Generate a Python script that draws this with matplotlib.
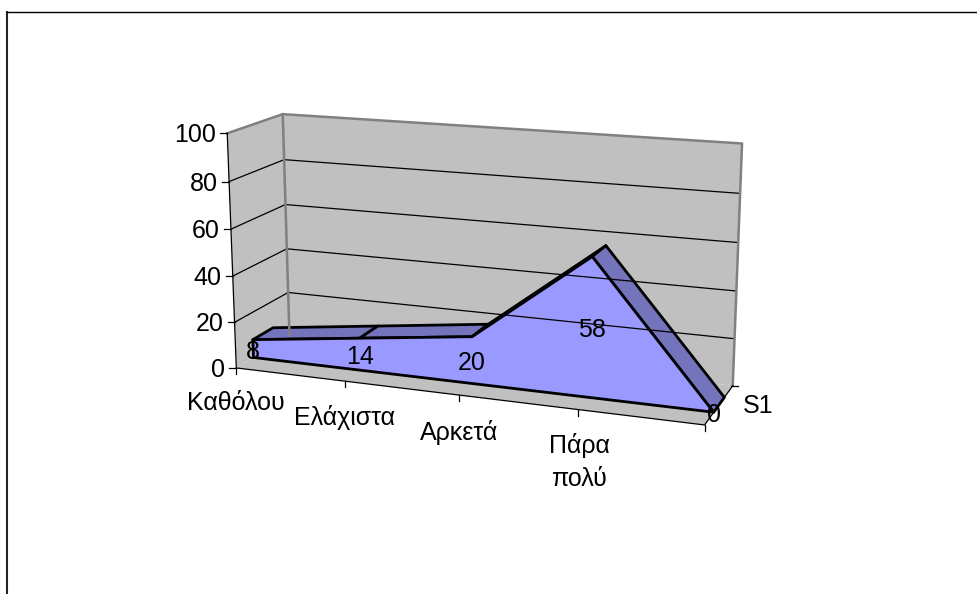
import numpy as np
from matplotlib import pyplot as plt
from matplotlib.patches import Polygon

plt.rcParams['font.family'] = ['Liberation Sans', 'DejaVu Sans']

categories = ['Καθόλου', 'Ελάχιστα', 'Αρκετά', 'Πάρα\nπολύ', '']
values = [8, 14, 20, 58, 0]
value_ticks = [0, 20, 40, 60, 80, 100]
series_name = 'S1'

WALL = '#C0C0C0'
EDGE = '#808080'
FACE = '#9999FF'
TOP = '#7474BC'
FONT = 18
SERIES_FRONT, SERIES_BACK = 0.31, 0.69


def fit_camera(points3d, points2d):
    # least squares camera matrix for the tilted box
    rows = []
    for (x, d, v), (sx, sy) in zip(points3d, points2d):
        p = [x, d, v / 100, 1]
        rows.append(p + [0, 0, 0, 0] + [-sx * c for c in p])
        rows.append([0, 0, 0, 0] + p + [-sy * c for c in p])
    return np.linalg.svd(np.array(rows))[2][-1].reshape(3, 4)


box3d = [(0, 0, 0), (0, 0, 100), (0, 1, 0), (0, 1, 100), (4, 0, 0), (4, 1, 0), (4, 1, 100),
         (1, 0, 0), (2, 0, 0), (3, 0, 0)]
box2d = [(237, 368), (227, 133), (289, 336), (283, 114), (705, 425), (733, 385), (742, 144),
         (345, 381), (458, 395), (578, 410)]
camera = fit_camera(box3d, box2d)


def project(x, d, v):
    sx, sy, w = camera @ np.array([x, d, v / 100, 1])
    return sx / w, sy / w


fig = plt.figure(figsize=(9.78, 5.94), dpi=100)
ax = fig.add_axes([0, 0, 1, 1])
ax.set_xlim(0, 978)
ax.set_ylim(594, 0)
ax.axis('off')

# chart frame, only the left and top sides show
ax.plot([7, 7], [594, 11], color='#222222', lw=1.5, solid_capstyle='butt')
ax.plot([6, 978], [11.5, 11.5], color='black', lw=1.0, solid_capstyle='butt')

n = len(values) - 1
# walls and floor
ax.add_patch(Polygon([project(0, 0, 0), project(0, 0, 100), project(0, 1, 100), project(0, 1, 0)], fc=WALL, ec='none'))
ax.add_patch(Polygon([project(0, 1, 0), project(0, 1, 100), project(n, 1, 100), project(n, 1, 0)], fc=WALL, ec='none'))
ax.add_patch(Polygon([project(0, 0, 0), project(0, 1, 0), project(n, 1, 0), project(n, 0, 0)], fc=WALL, ec='none'))

for v in value_ticks[1:-1]:
    a, b, c = project(0, 0, v), project(0, 1, v), project(n, 1, v)
    ax.plot([a[0], b[0], c[0]], [a[1], b[1], c[1]], color='black', lw=0.9)

# grey wall edges
for path in ([(0, 0, 100), (0, 1, 100), (n, 1, 100), (n, 1, 0)], [(0, 1, 100), (0, 1, 0)]):
    xy = np.array([project(*p) for p in path])
    ax.plot(xy[:, 0], xy[:, 1], color=EDGE, lw=1.8)

# value axis and ticks
xy = np.array([project(0, 0, value_ticks[0]), project(0, 0, value_ticks[-1])])
ax.plot(xy[:, 0], xy[:, 1], color='black', lw=0.9)
for v in value_ticks:
    sx, sy = project(0, 0, v)
    ax.plot([sx - 7, sx], [sy, sy], color='black', lw=0.9)
    ax.text(sx - 11, sy + 2, str(v), ha='right', va='center', fontsize=FONT)

# category axis and ticks
xy = np.array([project(0, 0, 0), project(n, 0, 0), project(n, 1, 0)])
ax.plot(xy[:, 0], xy[:, 1], color='black', lw=0.9)
label_offsets = [(0, 35), (0, 36), (0, 37), (1, 52)]
for i in range(n + 1):
    sx, sy = project(i, 0, 0)
    ax.plot([sx, sx], [sy, sy + 6], color='black', lw=0.9)
    if categories[i]:
        dx, dy = label_offsets[i]
        ax.text(sx + dx, sy + dy, categories[i], ha='center', va='center', fontsize=FONT, linespacing=1.47)

sx, sy = project(n, 1, 0)
ax.plot([sx - 2, sx + 5], [sy, sy], color='black', lw=0.9)
ax.text(sx + 10, sy + 20, series_name, ha='left', va='center', fontsize=FONT)

# top surface of the area, one strip per category step
for i in range(n):
    strip = [project(i, SERIES_FRONT, values[i]), project(i, SERIES_BACK, values[i]),
             project(i + 1, SERIES_BACK, values[i + 1]), project(i + 1, SERIES_FRONT, values[i + 1])]
    ax.add_patch(Polygon(strip, fc=TOP, ec='black', lw=2, joinstyle='round'))

# front face of the area
front = [project(i, SERIES_FRONT, v) for i, v in enumerate(values)]
front += [project(n, SERIES_FRONT, 0), project(0, SERIES_FRONT, 0)]
ax.add_patch(Polygon(front, fc=FACE, ec='black', lw=2, joinstyle='round'))

# value labels sit halfway up the front face
for i, v in enumerate(values):
    top, bottom = project(i, SERIES_FRONT, v), project(i, SERIES_FRONT, 0)
    ax.text(top[0], (top[1] + bottom[1]) / 2 + 3, str(v), ha='center', va='center', fontsize=FONT)

fig.savefig('out.png', dpi=100)
